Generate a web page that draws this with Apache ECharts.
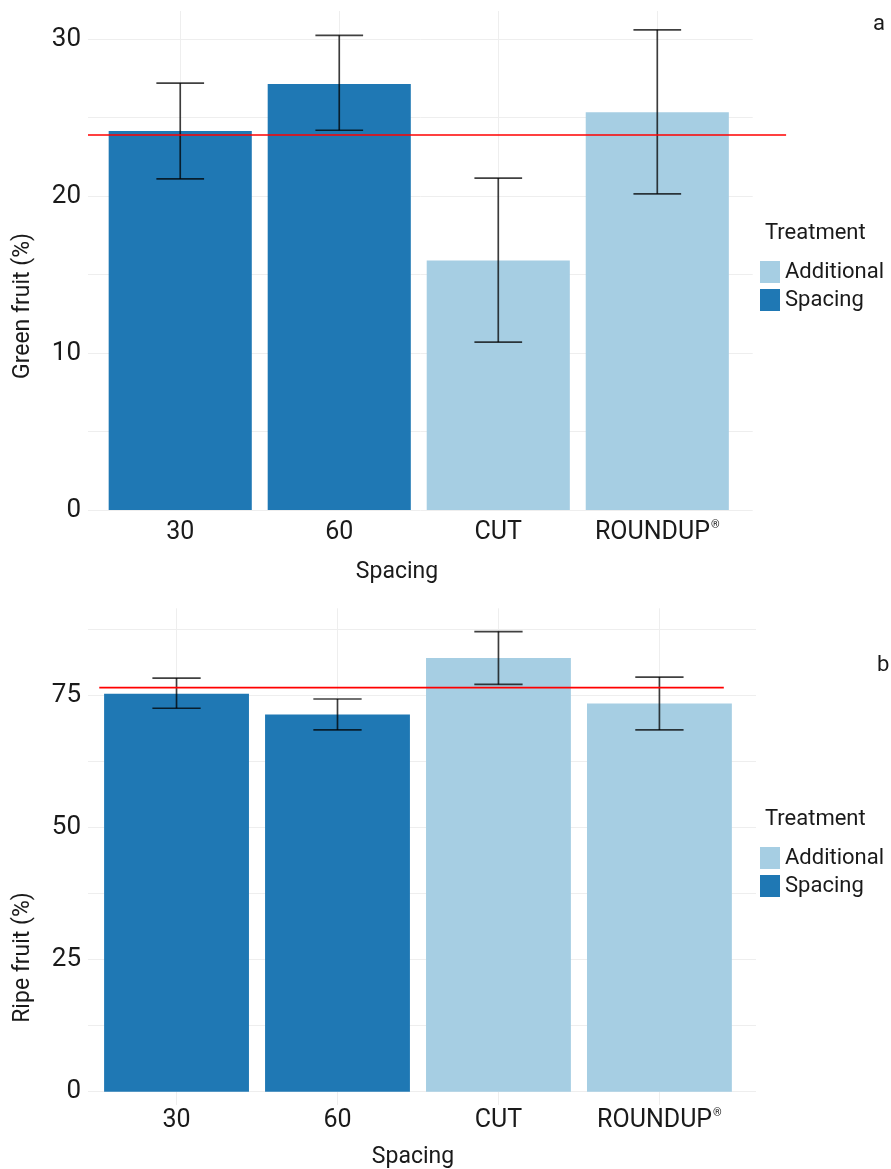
<!DOCTYPE html>
<html>
<head>
<meta charset="utf-8">
<script src="https://cdn.jsdelivr.net/npm/echarts@6/dist/echarts.min.js"></script>
<style>html,body{margin:0;padding:0;background:#fff}#c{width:891px;height:1169px}</style>
</head>
<body>
<div id="c"></div>
<script>
// ---- data ----
const categories = ['30', '60', 'CUT', 'ROUNDUP®'];
const treatments = ['Spacing', 'Spacing', 'Additional', 'Additional'];
const legendOrder = ['Additional', 'Spacing'];

const greenMean = [24.15, 27.15, 15.9, 25.35];
const greenLow  = [21.1, 24.2, 10.7, 20.15];
const greenHigh = [27.2, 30.25, 21.15, 30.6];
const greenRef = 23.9;
const greenRefSpan = [0.42, 4.81];
const greenTicks = [0, 10, 20, 30];
const greenGrid = [0, 5, 10, 15, 20, 25, 30];

const ripeMean = [75.25, 71.3, 82.0, 73.4];
const ripeLow  = [72.5, 68.4, 77.0, 68.4];
const ripeHigh = [78.2, 74.25, 87.0, 78.4];
const ripeRef = 76.4;
const ripeRefSpan = [0.52, 4.40];
const ripeTicks = [0, 25, 50, 75];
const ripeGrid = [0, 12.5, 25, 37.5, 50, 62.5, 75, 87.5];

// ---- styling ----
const FONT = 'Roboto, "Liberation Sans", sans-serif';
const colors = { Additional: '#A6CEE3', Spacing: '#1F78B4' };
const gridColor = '#eeeeee';
const textColor = '#1a1a1a';
const capWidth = 0.3;

const chart = echarts.init(document.getElementById('c'), null, { renderer: 'canvas' });

function catLabel(v) {
  const name = categories[Math.round(v) - 1] || '';
  return name.replace('®', '{sup|®}');
}

function panelSeries(gi, mean, low, high, ref, span) {
  const out = [];
  legendOrder.forEach(function (t) {
    const d = [];
    categories.forEach(function (c, i) {
      if (treatments[i] === t) d.push([i + 1, mean[i]]);
    });
    out.push({
      name: t, type: 'bar', xAxisIndex: gi, yAxisIndex: gi,
      data: d, barWidth: '90%', barGap: '-100%',
      itemStyle: { color: colors[t] }, z: 2, silent: true
    });
  });
  out.push({
    type: 'custom', xAxisIndex: gi, yAxisIndex: gi, z: 3, silent: true, clip: false,
    data: categories.map(function (c, i) { return [i + 1, low[i], high[i]]; }),
    encode: { x: 0, y: [1, 2] },
    renderItem: function (params, api) {
      const x = api.value(0);
      const pLo = api.coord([x, api.value(1)]);
      const pHi = api.coord([x, api.value(2)]);
      const half = api.size([capWidth, 0])[0] / 2;
      const st = { stroke: 'rgba(0,0,0,0.75)', lineWidth: 1.7 };
      return {
        type: 'group', children: [
          { type: 'line', shape: { x1: pLo[0], y1: pLo[1], x2: pHi[0], y2: pHi[1] }, style: st },
          { type: 'line', shape: { x1: pLo[0] - half, y1: pLo[1], x2: pLo[0] + half, y2: pLo[1] }, style: st },
          { type: 'line', shape: { x1: pHi[0] - half, y1: pHi[1], x2: pHi[0] + half, y2: pHi[1] }, style: st }
        ]
      };
    }
  });
  out.push({
    type: 'custom', xAxisIndex: gi, yAxisIndex: gi, z: 4, silent: true, clip: false,
    data: [[span[0], span[1], ref]],
    encode: { x: [0, 1], y: 2 },
    renderItem: function (params, api) {
      const p0 = api.coord([api.value(0), api.value(2)]);
      const p1 = api.coord([api.value(1), api.value(2)]);
      return {
        type: 'line', shape: { x1: p0[0], y1: p0[1], x2: p1[0], y2: p1[1] },
        style: { stroke: '#ff0000', lineWidth: 1.6 }
      };
    }
  });
  return out;
}

function xAxisCfg(gi, min, max, margin) {
  return {
    gridIndex: gi, type: 'value', min: min, max: max,
    axisLine: { show: false, onZero: false },
    axisTick: { show: false, customValues: [1, 2, 3, 4] },
    axisLabel: {
      customValues: [1, 2, 3, 4], formatter: catLabel, margin: margin,
      fontSize: 25, fontFamily: FONT, color: textColor,
      rich: { sup: { fontSize: 11, fontFamily: FONT, color: textColor, verticalAlign: 'top', padding: [0, 0, 10, 1] } }
    },
    splitLine: { show: true, lineStyle: { color: gridColor, width: 1 } }
  };
}

function yAxisCfg(gi, min, max, labels, grid) {
  return {
    gridIndex: gi, type: 'value', min: min, max: max,
    axisLine: { show: false },
    axisTick: { show: false, customValues: grid },
    axisLabel: { customValues: labels, margin: 7, fontSize: 26, fontFamily: FONT, color: textColor },
    splitLine: { show: true, lineStyle: { color: gridColor, width: 1 } }
  };
}

function legendCfg(top) {
  return {
    data: legendOrder, left: 760, top: top, orient: 'vertical', padding: 0,
    icon: 'rect', itemWidth: 20, itemHeight: 22, itemGap: 6,
    selectedMode: false,
    textStyle: { fontSize: 22, fontFamily: FONT, color: textColor, lineHeight: 22 }
  };
}

function txt(text, x, y, size, rot, align) {
  return {
    type: 'text', x: x, y: y, rotation: rot || 0, silent: true,
    style: {
      text: text, font: size + 'px ' + FONT, fill: textColor,
      textAlign: align || 'center', textVerticalAlign: 'middle',
      align: align || 'center', verticalAlign: 'middle'
    }
  };
}

const option = {
  animation: false,
  backgroundColor: '#ffffff',
  grid: [
    { left: 88, top: 11, width: 664.7, height: 499 },
    { left: 88, top: 608.3, width: 668, height: 496.6 }
  ],
  xAxis: [xAxisCfg(0, 0.42, 4.6, 10), xAxisCfg(1, 0.45, 4.6, 3)],
  yAxis: [
    yAxisCfg(0, 0, 31.8, greenTicks, greenGrid),
    yAxisCfg(1, -2.5, 91.4, ripeTicks, ripeGrid)
  ],
  legend: [legendCfg(261), legendCfg(847)],
  series: panelSeries(0, greenMean, greenLow, greenHigh, greenRef, greenRefSpan)
    .concat(panelSeries(1, ripeMean, ripeLow, ripeHigh, ripeRef, ripeRefSpan)),
  graphic: [
    txt('Green fruit (%)', 23, 306, 23, Math.PI / 2),
    txt('Ripe fruit (%)', 23, 957.5, 23, Math.PI / 2),
    txt('Spacing', 397, 572, 23),
    txt('Spacing', 413, 1157, 23),
    txt('Treatment', 765, 233.5, 22, 0, 'left'),
    txt('Treatment', 765, 819.5, 22, 0, 'left'),
    txt('a', 873, 24, 22, 0, 'left'),
    txt('b', 877, 665.5, 22, 0, 'left')
  ]
};
chart.setOption(option);
</script>
</body>
</html>
